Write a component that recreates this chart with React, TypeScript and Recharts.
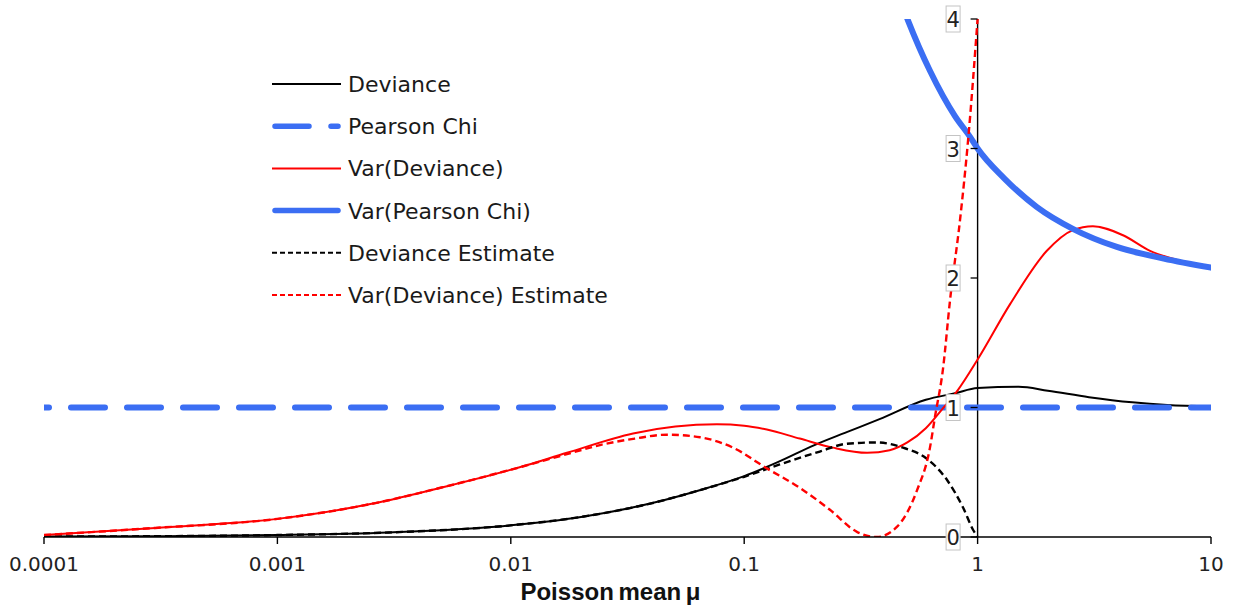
import React from "react";
import {
  Legend,
  Line,
  LineChart,
  ReferenceDot,
  ReferenceLine,
  XAxis,
  YAxis,
} from "recharts";

// Poisson mean on a log axis, every series keyed by mu
const devianceMu = [0.0001, 0.0003, 0.001, 0.003, 0.01, 0.02, 0.04, 0.07, 0.1, 0.14, 0.2, 0.275, 0.38, 0.6, 0.8, 1, 1.5, 2, 3, 4.6, 6.5, 10];
const devianceVal = [0.003, 0.006, 0.015, 0.035, 0.09, 0.155, 0.26, 0.38, 0.47, 0.58, 0.71, 0.81, 0.91, 1.06, 1.11, 1.15, 1.16, 1.13, 1.08, 1.04, 1.02, 1.01];

const pearsonMu = [0.0001, 10];
const pearsonVal = [1, 1];

const varDevianceMu = [0.0001, 0.0003, 0.001, 0.0026, 0.005, 0.011, 0.0174, 0.0334, 0.0764, 0.1, 0.125, 0.173, 0.24, 0.336, 0.42, 0.5, 0.6, 0.7, 0.82, 1, 1.38, 1.98, 2.56, 3.12, 4.2, 5.48, 7.15, 10];
const varDevianceVal = [0.015, 0.07, 0.14, 0.26, 0.38, 0.54, 0.65, 0.8, 0.87, 0.86, 0.83, 0.76, 0.69, 0.65, 0.67, 0.73, 0.84, 0.98, 1.13, 1.37, 1.8, 2.21, 2.37, 2.4, 2.33, 2.21, 2.14, 2.08];

const varPearsonMu = [0.45, 0.503, 0.625, 0.8, 0.928, 1, 1.3, 1.79, 2.56, 3.95, 6.27, 10];
const varPearsonVal = [4.22, 3.99, 3.6, 3.25, 3.09, 3.0, 2.77, 2.55, 2.38, 2.24, 2.15, 2.08];

const devEstimateMu = [0.0001, 0.0003, 0.001, 0.003, 0.01, 0.02, 0.04, 0.07, 0.1, 0.142, 0.211, 0.275, 0.37, 0.479, 0.6, 0.74, 0.865, 0.96, 1];
const devEstimateVal = [0.003, 0.006, 0.015, 0.035, 0.09, 0.155, 0.26, 0.38, 0.465, 0.56, 0.66, 0.72, 0.73, 0.69, 0.61, 0.44, 0.23, 0.05, 0];

const varDevEstimateMu = [0.0001, 0.0003, 0.001, 0.0026, 0.005, 0.011, 0.0174, 0.0241, 0.034, 0.0467, 0.0647, 0.0895, 0.125, 0.173, 0.233, 0.304, 0.37, 0.452, 0.55, 0.625, 0.657, 0.711, 0.762, 0.841, 0.91, 1];
const varDevEstimateVal = [0.015, 0.07, 0.14, 0.26, 0.38, 0.54, 0.64, 0.71, 0.76, 0.79, 0.77, 0.69, 0.53, 0.38, 0.21, 0.04, 0, 0.08, 0.36, 0.69, 0.93, 1.3, 1.83, 2.45, 3.06, 4.0];

const xTicks = [0.0001, 0.001, 0.01, 0.1, 1, 10];
const xTickLabels = ["0.0001", "0.001", "0.01", "0.1", "1", "10"];
const yTicks = [0, 1, 2, 3, 4];
const yTickLabels = ["0", "1", "2", "3", "4"];

const BLUE = "#3b6ef3";
const RED = "#ff0000";
const FONT = "'DejaVu Sans', sans-serif";

const toPoints = (mu: number[], val: number[]) => mu.map((x, i) => ({ x, y: val[i] }));

const series = [
  { name: "Deviance", data: toPoints(devianceMu, devianceVal), color: "#000", width: 2, dash: undefined as string | undefined, cap: "butt" },
  { name: "Pearson Chi", data: toPoints(pearsonMu, pearsonVal), color: BLUE, width: 6, dash: "34 22", cap: "round" },
  { name: "Var(Deviance)", data: toPoints(varDevianceMu, varDevianceVal), color: RED, width: 2, dash: undefined, cap: "butt" },
  { name: "Var(Pearson Chi)", data: toPoints(varPearsonMu, varPearsonVal), color: BLUE, width: 6, dash: undefined, cap: "round" },
  { name: "Deviance Estimate", data: toPoints(devEstimateMu, devEstimateVal), color: "#000", width: 2.4, dash: "7 4", cap: "butt" },
  { name: "Var(Deviance) Estimate", data: toPoints(varDevEstimateMu, varDevEstimateVal), color: RED, width: 2.4, dash: "7 4", cap: "butt" },
];

function LegendBox() {
  return (
    <svg width={380} height={260} style={{ display: "block" }}>
      {series.map((s, i) => {
        const cy = 24 + i * 42.2;
        return (
          <g key={s.name}>
            <line
              x1={s.cap === "round" ? 11 : 8}
              x2={s.cap === "round" ? 74 : 77}
              y1={cy}
              y2={cy}
              stroke={s.color}
              strokeWidth={s.width === 6 ? 5.5 : 2}
              strokeDasharray={s.name === "Pearson Chi" ? "34 22" : s.dash ? "5 3" : undefined}
              strokeLinecap={s.cap as "round" | "butt"}
            />
            <text x={84} y={cy + 8} fontFamily={FONT} fontSize={22} fill="#1a1a1a">
              {s.name}
            </text>
          </g>
        );
      })}
    </svg>
  );
}

// y ticks sit on the vertical axis at mu = 1, labels in small boxes
function YTickMark(props: any) {
  const { cx, cy, label } = props;
  return (
    <g>
      <line x1={cx - 7} x2={cx} y1={cy} y2={cy} stroke="#000" strokeWidth={1.3} />
      <rect x={cx - 31.5} y={cy - 13} width={14} height={26} fill="#fff" stroke="#c4c4c4" strokeWidth={1} />
      <text x={cx - 24.5} y={cy + 8} textAnchor="middle" fontFamily={FONT} fontSize={21} fill="#222">
        {label}
      </text>
    </g>
  );
}

function AxisTitle(props: any) {
  const { viewBox } = props;
  return (
    <text
      x={viewBox.x + viewBox.width / 2 - 17}
      y={viewBox.y + 63}
      textAnchor="middle"
      fontFamily="'Liberation Sans', Arial, sans-serif"
      fontWeight="bold"
      fontSize={24}
      wordSpacing={-2}
      fill="#111"
    >
      Poisson mean μ
    </text>
  );
}

export default function App() {
  return (
    <div style={{ position: "absolute", left: 0, top: 0, width: 1236, height: 608, background: "#fff" }}>
      <LineChart width={1236} height={608} margin={{ top: 19, right: 25, bottom: 0, left: 44 }}>
        <XAxis
          dataKey="x"
          type="number"
          scale="log"
          domain={[0.0001, 10]}
          ticks={xTicks}
          interval={0}
          allowDataOverflow
          height={71}
          tickSize={7}
          tickMargin={13}
          tickFormatter={(v: number) => xTickLabels[xTicks.indexOf(v)] ?? String(v)}
          tick={{ fontSize: 20, fontFamily: FONT, fill: "#222" }}
          stroke="#000"
          strokeWidth={1.4}
          label={AxisTitle}
        />
        <YAxis type="number" domain={[0, 4]} allowDataOverflow hide />
        <ReferenceLine x={1} stroke="#000" strokeWidth={1.4} />
        {series.map((s) => (
          <Line
            key={s.name}
            data={s.data}
            dataKey="y"
            name={s.name}
            type="monotone"
            stroke={s.color}
            strokeWidth={s.width}
            strokeDasharray={s.dash}
            strokeDashoffset={s.name === "Pearson Chi" ? 29 : undefined}
            strokeLinecap={s.cap as "round" | "butt"}
            dot={false}
            activeDot={false}
            isAnimationActive={false}
          />
        ))}
        {yTicks.map((v, i) => (
          <ReferenceDot
            key={v}
            x={1}
            y={v}
            r={0}
            shape={(p: any) => <YTickMark {...p} label={yTickLabels[i]} />}
          />
        ))}
        <Legend
          layout="vertical"
          align="center"
          verticalAlign="middle"
          wrapperStyle={{ left: 264, top: 60, width: 380, height: 260 }}
          content={() => <LegendBox />}
        />
      </LineChart>
    </div>
  );
}
